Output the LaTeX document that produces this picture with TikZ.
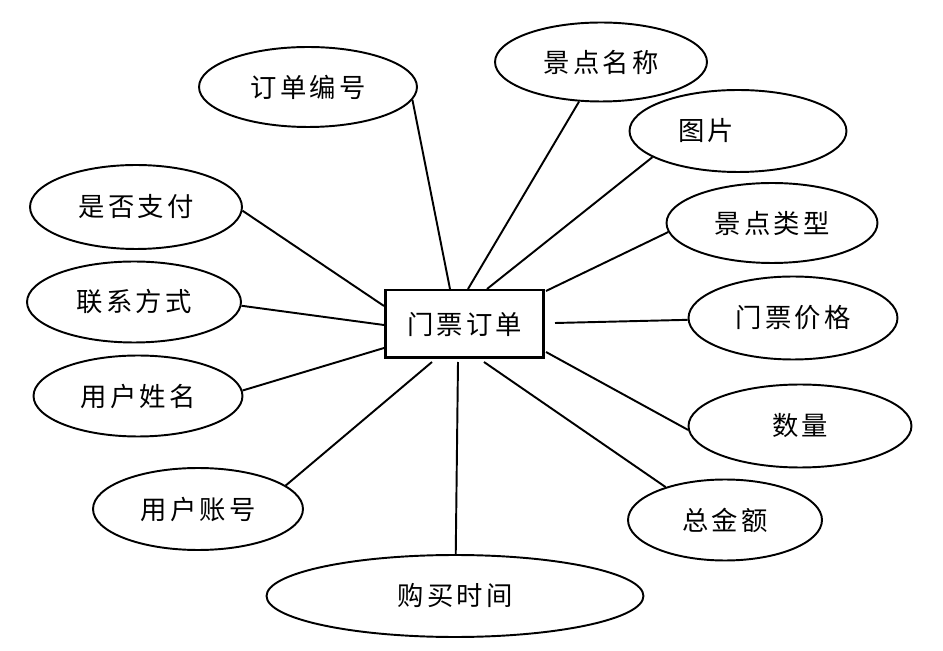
\documentclass[tikz,border=0pt]{standalone}
\usepackage{fontspec}
\usepackage{tikz}
\usetikzlibrary{shapes.geometric}
\newfontfamily\cjk[LetterSpace=12]{Noto Sans CJK SC}
\tikzset{
  attr/.style={draw,ellipse,line width=1.1pt,inner sep=0pt,
    font=\cjk\fontsize{15}{15}\selectfont},
  entity/.style={draw,rectangle,line width=1.7pt,inner sep=0pt,
    minimum width=3.18cm,minimum height=1.36cm,
    font=\cjk\fontsize{15}{15}\selectfont},
  link/.style={line width=1.1pt}
}

\begin{document}
\begin{tikzpicture}[x=0.02cm,y=-0.02cm]
  \useasboundingbox (0,0) rectangle (943,651);
  % entity in the middle
  \node[entity] (ord) at (464.5,324) {门票订单};
  % attributes, top row first
  \node[attr,minimum width=4.36cm,minimum height=1.6cm] (bh) at (308,87) {订单编号};
  \node[attr,minimum width=4.24cm,minimum height=1.58cm] (jdmc) at (601,62) {景点名称};
  \node[attr,minimum width=4.34cm,minimum height=1.64cm] (tp) at (738,131) {图片\kern1.28cm};
  \node[attr,minimum width=4.24cm,minimum height=1.68cm] (sfzf) at (136,207) {是否支付};
  \node[attr,minimum width=4.22cm,minimum height=1.6cm] (jdlx) at (772,223) {景点类型};
  \node[attr,minimum width=4.28cm,minimum height=1.62cm] (lxfs) at (134,302) {联系方式};
  \node[attr,minimum width=4.18cm,minimum height=1.66cm] (mpjg) at (793,318) {门票价格};
  \node[attr,minimum width=4.18cm,minimum height=1.62cm] (yhxm) at (138,396) {用户姓名};
  \node[attr,minimum width=4.46cm,minimum height=1.66cm] (sl) at (800,426) {数量};
  \node[attr,minimum width=4.2cm,minimum height=1.64cm] (yhzh) at (198,509) {用户账号};
  \node[attr,minimum width=3.88cm,minimum height=1.62cm] (zje) at (725,520) {总金额};
  \node[attr,minimum width=7.54cm,minimum height=1.64cm] (gmsj) at (455,596) {购买时间};
  % where the links meet the entity
  \coordinate (ord-bh) at (450,289);
  \coordinate (ord-jdmc) at (468,289);
  \coordinate (ord-tp) at (487,289);
  \coordinate (ord-jdlx) at (546,291);
  \coordinate (ord-mpjg) at (555,323);
  \coordinate (ord-sl) at (546,352);
  \coordinate (ord-zje) at (484,362);
  \coordinate (ord-gmsj) at (458,362);
  \coordinate (ord-yhzh) at (432,362);
  \coordinate (ord-yhxm) at (384,348);
  \coordinate (ord-lxfs) at (384,325);
  \coordinate (ord-sfzf) at (384,306);
  % links
  \draw[link] (bh.-7) -- (ord-bh);
  \draw[link] (jdmc.-119) -- (ord-jdmc);
  \draw[link] (tp.-163) -- (ord-tp);
  \draw[link] (jdlx.-175) -- (ord-jdlx);
  \draw[link] (mpjg.-179) -- (ord-mpjg);
  \draw[link] (sl.-178) -- (ord-sl);
  \draw[link] (zje.151) -- (ord-zje);
  \draw[link] (gmsj.89) -- (ord-gmsj);
  \draw[link] (yhzh.15) -- (ord-yhzh);
  \draw[link] (yhxm.3) -- (ord-yhxm);
  \draw[link] (lxfs.-2) -- (ord-lxfs);
  \draw[link] (sfzf.-2) -- (ord-sfzf);
\end{tikzpicture}
\end{document}
